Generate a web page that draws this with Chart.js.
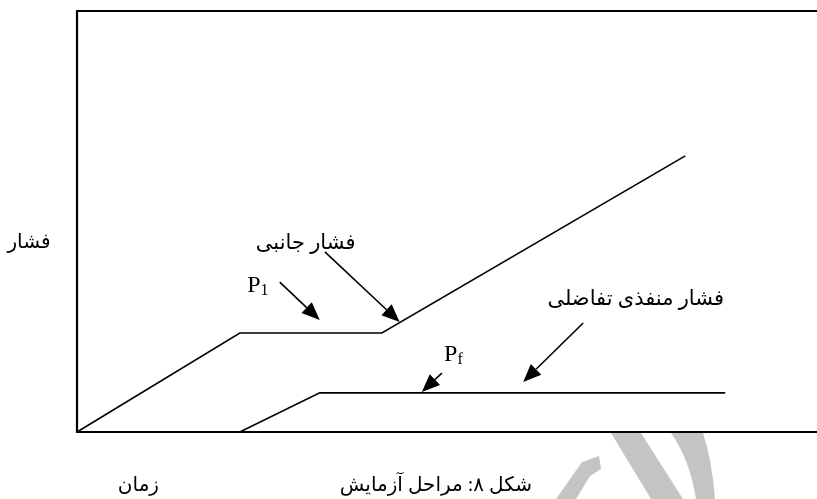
<!DOCTYPE html>
<html>
<head>
<meta charset="utf-8">
<script src="https://cdn.jsdelivr.net/npm/chart.js@4/dist/chart.umd.min.js"></script>
<style>
    html, body { margin: 0; padding: 0; background: #fff; }
    #wrap { width: 817px; height: 499px; position: relative; }
</style>
</head>
<body>
<div id="wrap"><canvas id="testChart"></canvas></div>
<script>
// time (x) and pressure (y), in percent of the axis range
var sideTime = [0, 22.0, 41.2, 82.2];
var sidePressure = [0, 23.5, 23.5, 65.6];
var poreTime = [22.0, 32.8, 87.6];
var porePressure = [0, 9.3, 9.3];

// arrows: tail time, tail pressure, head time, head pressure
var arrowTails = [[27.4, 35.6], [33.5, 42.8], [68.4, 25.9], [49.3, 14.0]];
var arrowHeads = [[32.8, 26.6], [43.6, 26.1], [60.3, 11.9], [46.6, 9.5]];

// labels inside the plot
var labelTexts = ['فشار جانبی', 'فشار منفذی تفاضلی'];
var labelPoints = [[30.9, 44.7], [75.5, 31.4]];
var pressureNames = [['P', '1'], ['P', 'f']];
var pressureNamePoints = [[23.0, 33.2], [49.6, 16.8]];

var yTitle = 'فشار';
var xTitle = 'زمان';
var caption = 'شکل ۸: مراحل آزمایش';

var persianFont = '"Liberation Serif", "DejaVu Sans", serif';
var latinFont = '"Liberation Serif", "Times New Roman", serif';

function toPoints(xs, ys) {
    var points = [];
    xs.forEach(function (x, i) {
        points.push({ x: x, y: ys[i] });
    });
    return points;
}

function drawArrow(ctx, x1, y1, x2, y2) {
    var angle = Math.atan2(y2 - y1, x2 - x1);
    var headLength = 18;
    var headHalf = 7.5;
    var bx = x2 - headLength * Math.cos(angle);
    var by = y2 - headLength * Math.sin(angle);

    ctx.beginPath();
    ctx.moveTo(x1, y1);
    ctx.lineTo(bx, by);
    ctx.stroke();

    ctx.beginPath();
    ctx.moveTo(x2, y2);
    ctx.lineTo(bx + headHalf * Math.sin(angle), by - headHalf * Math.cos(angle));
    ctx.lineTo(bx - headHalf * Math.sin(angle), by + headHalf * Math.cos(angle));
    ctx.closePath();
    ctx.fill();
}

var figurePlugin = {
    id: 'figure',
    beforeDatasetsDraw: function (chart) {
        var ctx = chart.ctx;
        var area = chart.chartArea;

        // watermark of the source page
        ctx.save();
        ctx.fillStyle = '#c4c4c4';
        ctx.beginPath();
        ctx.moveTo(611, 433);
        ctx.lineTo(641, 433);
        ctx.lineTo(683, 499);
        ctx.lineTo(651, 499);
        ctx.closePath();
        ctx.fill();
        ctx.beginPath();
        ctx.moveTo(556, 499);
        ctx.lineTo(582, 462);
        ctx.lineTo(599, 456);
        ctx.lineTo(601, 469);
        ctx.lineTo(590, 476);
        ctx.lineTo(576, 499);
        ctx.closePath();
        ctx.fill();
        ctx.beginPath();
        ctx.moveTo(671, 433);
        ctx.quadraticCurveTo(690, 460, 696, 499);
        ctx.lineTo(715, 499);
        ctx.quadraticCurveTo(712, 460, 703, 433);
        ctx.closePath();
        ctx.fill();
        ctx.restore();

        // frame: left, top and bottom lines
        ctx.save();
        ctx.strokeStyle = '#000';
        ctx.lineWidth = 2.2;
        ctx.beginPath();
        ctx.moveTo(area.right + 2, area.top);
        ctx.lineTo(area.left, area.top);
        ctx.lineTo(area.left, area.bottom);
        ctx.lineTo(area.right + 2, area.bottom);
        ctx.stroke();
        ctx.restore();
    },
    afterDatasetsDraw: function (chart) {
        var ctx = chart.ctx;
        var area = chart.chartArea;
        var xs = chart.scales.x;
        var ys = chart.scales.y;

        ctx.save();
        ctx.strokeStyle = '#000';
        ctx.fillStyle = '#000';
        ctx.lineWidth = 1.6;
        arrowTails.forEach(function (tail, i) {
            var head = arrowHeads[i];
            drawArrow(ctx,
                xs.getPixelForValue(tail[0]), ys.getPixelForValue(tail[1]),
                xs.getPixelForValue(head[0]), ys.getPixelForValue(head[1]));
        });

        ctx.textAlign = 'center';
        ctx.textBaseline = 'middle';
        ctx.direction = 'rtl';
        ctx.font = '21px ' + persianFont;
        labelTexts.forEach(function (text, i) {
            ctx.fillText(text, xs.getPixelForValue(labelPoints[i][0]), ys.getPixelForValue(labelPoints[i][1]));
        });

        ctx.font = '20px ' + persianFont;
        ctx.fillText(yTitle, area.left - 48, ys.getPixelForValue(45));
        ctx.fillText(xTitle, xs.getPixelForValue(8.3), area.bottom + 54);
        ctx.fillText(caption, xs.getPixelForValue(48.5), area.bottom + 54);

        ctx.direction = 'ltr';
        ctx.textAlign = 'left';
        ctx.textBaseline = 'alphabetic';
        pressureNames.forEach(function (name, i) {
            var px = xs.getPixelForValue(pressureNamePoints[i][0]);
            var py = ys.getPixelForValue(pressureNamePoints[i][1]);
            ctx.font = '24px ' + latinFont;
            ctx.fillText(name[0], px, py);
            var w = ctx.measureText(name[0]).width;
            ctx.font = '16px ' + latinFont;
            ctx.fillText(name[1], px + w, py + 3);
        });
        ctx.restore();
    }
};

var lineStyle = {
    showLine: true,
    borderColor: '#000',
    borderWidth: 1.6,
    pointRadius: 0,
    tension: 0,
    fill: false,
    clip: false
};

var testChart = new Chart(document.getElementById('testChart').getContext('2d'), {
    type: 'scatter',
    data: {
        datasets: [
            Object.assign({ label: 'فشار جانبی', data: toPoints(sideTime, sidePressure) }, lineStyle),
            Object.assign({ label: 'فشار منفذی تفاضلی', data: toPoints(poreTime, porePressure) }, lineStyle)
        ]
    },
    options: {
        responsive: true,
        maintainAspectRatio: false,
        animation: false,
        layout: { padding: { left: 77, right: 0, top: 11, bottom: 67 } },
        plugins: {
            legend: { display: false },
            tooltip: { enabled: false }
        },
        scales: {
            x: { type: 'linear', display: false, min: 0, max: 100 },
            y: { type: 'linear', display: false, min: 0, max: 100 }
        }
    },
    plugins: [figurePlugin]
});
</script>
</body>
</html>
